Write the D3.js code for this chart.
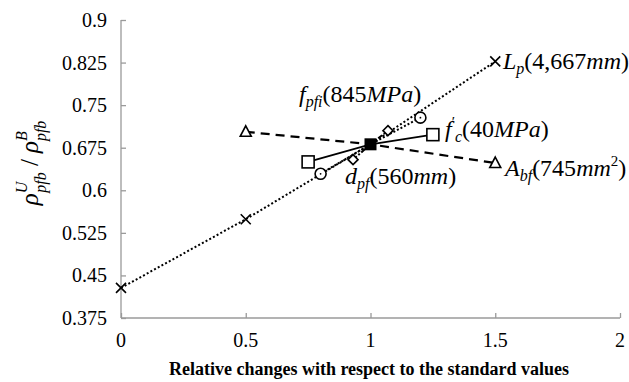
<!DOCTYPE html>
<html>
<head>
<meta charset="utf-8">
<script src="https://cdn.jsdelivr.net/npm/d3@7"></script>
<style>
  body { margin: 0; background: #fff; }
  svg text { font-family: "Times New Roman", "Liberation Serif", serif; }
</style>
</head>
<body>
<svg id="chart" width="629" height="382"></svg>
<script>
// relative change (x) and ratio values (y)
var lpX = [0, 0.5, 1, 1.5];
var lpY = [0.428, 0.549, 0.681, 0.827];
var fcX = [0.75, 1, 1.25];
var fcY = [0.650, 0.681, 0.698];
var abfX = [0.5, 1, 1.5];
var abfY = [0.703, 0.681, 0.648];
var fpfiX = [0.8, 1, 1.2];
var fpfiY = [0.629, 0.681, 0.728];
var dpfX = [0.93, 1, 1.07];
var dpfY = [0.654, 0.681, 0.705];

var xTicks = [0, 0.5, 1, 1.5, 2];
var yTicks = [0.375, 0.45, 0.525, 0.6, 0.675, 0.75, 0.825, 0.9];

var svg = d3.select("#chart");

var x = d3.scaleLinear().domain([0, 2]).range([121, 620]);
var y = d3.scaleLinear().domain([0.375, 0.9]).range([318, 20]);

// axes, ticks drawn inside the plot
svg.append("g")
    .attr("transform", "translate(0,318)")
    .call(d3.axisTop(x).tickValues(xTicks).tickSize(5).tickFormat(""));
svg.append("g")
    .attr("transform", "translate(121,0)")
    .call(d3.axisRight(y).tickValues(yTicks).tickSize(5).tickFormat(""));
svg.selectAll(".domain").remove();
svg.append("line").attr("x1", 121).attr("x2", 620).attr("y1", 318).attr("y2", 318)
   .attr("stroke", "#9a9a9a").attr("stroke-width", 1.3);
svg.append("line").attr("x1", 121).attr("x2", 121).attr("y1", 20).attr("y2", 318)
   .attr("stroke", "#9a9a9a").attr("stroke-width", 1.3);
svg.selectAll(".tick line").attr("stroke", "#9a9a9a").attr("stroke-width", 1.3);

// tick labels
svg.append("g").selectAll("text")
   .data(yTicks).enter().append("text")
   .attr("x", 107)
   .attr("y", d => y(d) + 7)
   .attr("text-anchor", "end")
   .attr("font-size", 20)
   .text(d => d);

svg.append("g").selectAll("text")
   .data(xTicks).enter().append("text")
   .attr("x", d => x(d))
   .attr("y", 347)
   .attr("text-anchor", "middle")
   .attr("font-size", 20)
   .text(d => d);

svg.append("text")
   .attr("x", 369)
   .attr("y", 375)
   .attr("text-anchor", "middle")
   .attr("font-size", 18)
   .attr("font-weight", "bold")
   .text("Relative changes with respect to the standard values");

// y title
var yt = svg.append("text")
   .attr("transform", "translate(38,163) rotate(-90)")
   .attr("text-anchor", "middle")
   .attr("font-size", 25)
   .attr("font-style", "italic");
yt.append("tspan").text("ρ");
yt.append("tspan").attr("font-size", 16).attr("dy", -11).text("U");
yt.append("tspan").attr("font-size", 16).attr("dx", -11).attr("dy", 19).text("pfb");
yt.append("tspan").attr("dy", -8).attr("font-style", "normal").text(" / ");
yt.append("tspan").text("ρ");
yt.append("tspan").attr("font-size", 16).attr("dy", -11).text("B");
yt.append("tspan").attr("font-size", 16).attr("dx", -10).attr("dy", 19).text("pfb");

function series(xs, ys) {
    return xs.map((v, i) => ({x: v, y: ys[i]}));
}
var line = d3.line().x(d => x(d.x)).y(d => y(d.y));

function drawLine(data, dash, width) {
    svg.append("path")
       .datum(data)
       .attr("d", line)
       .attr("fill", "none")
       .attr("stroke", "#000")
       .attr("stroke-width", width)
       .attr("stroke-dasharray", dash);
}

var lp = series(lpX, lpY), fc = series(fcX, fcY), abf = series(abfX, abfY),
    fpfi = series(fpfiX, fpfiY), dpf = series(dpfX, dpfY);

drawLine(abf, "9,6", 2.2);
drawLine(lp, "2,2.2", 2);
drawLine(fpfi, "2,2", 2);
drawLine(dpf, "5,2,2,2", 2);
drawLine(fc, null, 1.8);

// markers
function markers(data, shape) {
    var g = svg.append("g").selectAll("g")
        .data(data).enter().append("g")
        .attr("transform", d => "translate(" + x(d.x) + "," + y(d.y) + ")");
    if (shape === "x") {
        g.append("path").attr("d", "M-5,-5L5,5M-5,5L5,-5")
         .attr("stroke", "#000").attr("stroke-width", 1.6);
    } else if (shape === "square") {
        g.append("rect").attr("x", -6).attr("y", -6).attr("width", 12).attr("height", 12)
         .attr("fill", "#fff").attr("stroke", "#000").attr("stroke-width", 1.6);
    } else if (shape === "triangle") {
        g.append("path").attr("d", "M0,-6L5.5,4.5L-5.5,4.5Z")
         .attr("fill", "#fff").attr("stroke", "#000").attr("stroke-width", 1.6);
    } else if (shape === "circle") {
        g.append("circle").attr("r", 5.5)
         .attr("fill", "#fff").attr("stroke", "#000").attr("stroke-width", 1.6);
        g.append("circle").attr("r", 0.9).attr("fill", "#000");
    } else if (shape === "diamond") {
        g.append("path").attr("d", "M0,-5L5,0L0,5L-5,0Z")
         .attr("fill", "#fff").attr("stroke", "#000").attr("stroke-width", 1.6);
    }
}
markers(lp, "x");
markers(abf.filter(d => d.x !== 1), "triangle");
markers(fpfi.filter(d => d.x !== 1), "circle");
markers(dpf.filter(d => d.x !== 1), "diamond");
markers(fc.filter(d => d.x !== 1), "square");
// shared standard point
svg.append("rect")
   .attr("x", x(1) - 6).attr("y", y(0.681) - 6).attr("width", 12).attr("height", 12)
   .attr("fill", "#000");

// series labels
function label(px, py, parts) {
    var t = svg.append("text").attr("x", px).attr("y", py).attr("font-size", 24);
    parts.forEach(p => {
        var s = t.append("tspan").text(p.t);
        if (p.i) s.attr("font-style", "italic");
        if (p.s) s.attr("font-size", p.s);
        if (p.dy) s.attr("dy", p.dy);
        if (p.dx) s.attr("dx", p.dx);
    });
    return t;
}
label(503, 69, [{t: "L", i: 1}, {t: "p", i: 1, s: 16, dy: 5}, {t: "(4,667", dy: -5}, {t: "mm", i: 1}, {t: ")"}]);
label(299, 102, [{t: "f", i: 1}, {t: "pfi", i: 1, s: 16, dy: 5}, {t: "(845", dy: -5}, {t: "MPa", i: 1}, {t: ")"}]);
label(445, 137, [{t: "f", i: 1}, {t: "′", s: 15, dy: -10}, {t: "c", i: 1, s: 16, dy: 15}, {t: "(40", dy: -5}, {t: "MPa", i: 1}, {t: ")"}]);
label(505, 176, [{t: "A", i: 1}, {t: "bf", i: 1, s: 16, dy: 5}, {t: "(745", dy: -5}, {t: "mm", i: 1}, {t: "2", s: 15, dy: -10}, {t: ")", dy: 10}]);
label(345, 184, [{t: "d", i: 1}, {t: "pf", i: 1, s: 16, dy: 5}, {t: "(560", dy: -5}, {t: "mm", i: 1}, {t: ")"}]);
</script>
</body>
</html>
